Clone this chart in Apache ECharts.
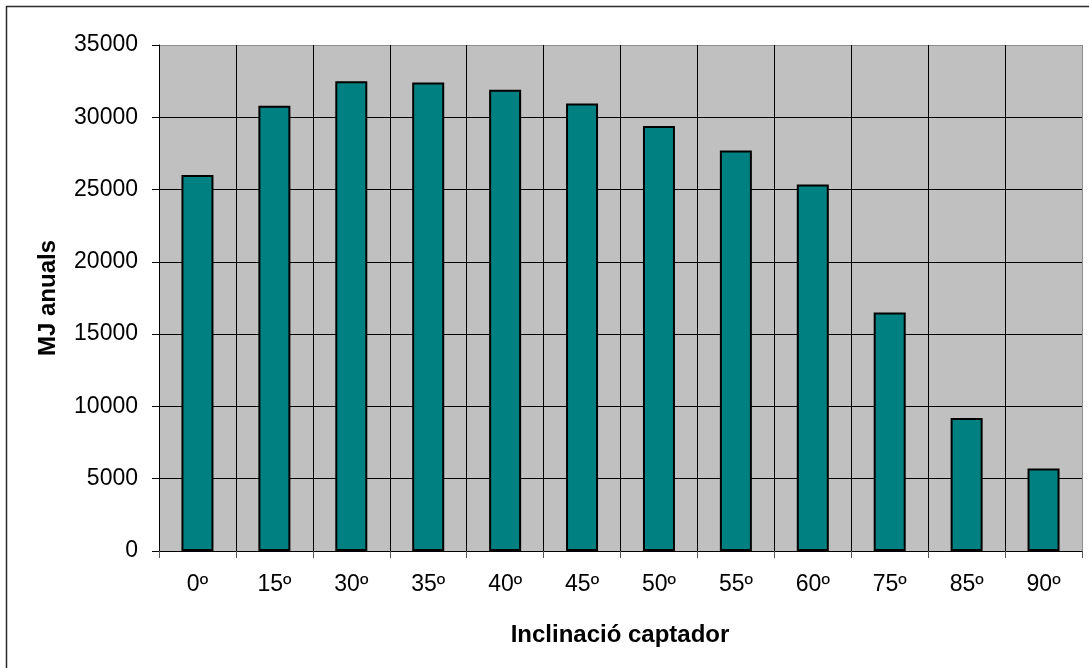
<!DOCTYPE html>
<html>
<head>
<meta charset="utf-8">
<title>Inclinació captador</title>
<script src="https://cdn.jsdelivr.net/npm/echarts@6/dist/echarts.min.js"></script>
<style>
  html, body { margin: 0; padding: 0; background: #ffffff; }
  #chart { width: 1089px; height: 668px; }
</style>
</head>
<body>
<div id="chart"></div>
<script>
// Annual energy collected (MJ) for each collector tilt angle
const categories = ['0º', '15º', '30º', '35º', '40º', '45º', '50º', '55º', '60º', '75º', '85º', '90º'];
const values = [26000, 30800, 32500, 32400, 31900, 30950, 29400, 27700, 25350, 16500, 9200, 5700];
const yTicks = { min: 0, max: 35000, interval: 5000 };
const xTitle = 'Inclinació captador';
const yTitle = 'MJ anuals';

const FONT = "'Liberation Sans', Arial, sans-serif";

// split line colours: all black except the outermost one, which forms the grey frame
const hSplit = Array.from({ length: 8 }, (_, i) => (i === 7 ? '#8c8c8c' : '#000000'));
const vSplit = Array.from({ length: categories.length + 1 }, (_, i) =>
  i === categories.length ? '#8c8c8c' : '#000000');

const chart = echarts.init(document.getElementById('chart'), null, { renderer: 'canvas' });

chart.setOption({
  backgroundColor: '#ffffff',
  animation: false,
  textStyle: { fontFamily: FONT },
  grid: {
    left: 159,
    right: 7,
    top: 45,
    bottom: 117,
    show: true,
    backgroundColor: '#c0c0c0',
    borderWidth: 0
  },
  xAxis: {
    type: 'category',
    data: categories,
    boundaryGap: true,
    axisLine: { show: true, lineStyle: { color: '#000000', width: 1 } },
    axisTick: { show: true, length: 7, alignWithLabel: false, lineStyle: { color: '#555555' } },
    axisLabel: { color: '#000000', fontSize: 23, fontFamily: FONT, margin: 22, interval: 0 },
    splitLine: { show: true, interval: 0, lineStyle: { color: vSplit, width: 1 } }
  },
  yAxis: {
    type: 'value',
    min: yTicks.min,
    max: yTicks.max,
    interval: yTicks.interval,
    axisLine: { show: true, lineStyle: { color: '#000000', width: 1 } },
    axisTick: { show: true, length: 7, lineStyle: { color: '#000000' } },
    axisLabel: {
      color: '#000000',
      fontSize: 23,
      fontFamily: FONT,
      margin: 21,
      formatter: (v) => String(v)
    },
    splitLine: { show: true, lineStyle: { color: hSplit, width: 1 } }
  },
  series: [{
    type: 'bar',
    data: values,
    barWidth: 32,
    itemStyle: { color: '#008080', borderColor: '#000000', borderWidth: 2 }
  }],
  graphic: [
    {
      // outer chart frame
      type: 'rect',
      silent: true,
      shape: { x: 6.5, y: 6.5, width: 1200, height: 800 },
      style: { fill: null, stroke: '#2a2a2a', lineWidth: 1.5 }
    },
    {
      type: 'text',
      x: 620,
      y: 635,
      style: {
        text: xTitle,
        font: 'bold 24px ' + FONT,
        fill: '#000000',
        align: 'center',
        verticalAlign: 'middle'
      }
    },
    {
      type: 'text',
      x: 48,
      y: 298,
      rotation: Math.PI / 2,
      style: {
        text: yTitle,
        font: 'bold 24px ' + FONT,
        fill: '#000000',
        align: 'center',
        verticalAlign: 'middle'
      }
    }
  ]
});
</script>
</body>
</html>
